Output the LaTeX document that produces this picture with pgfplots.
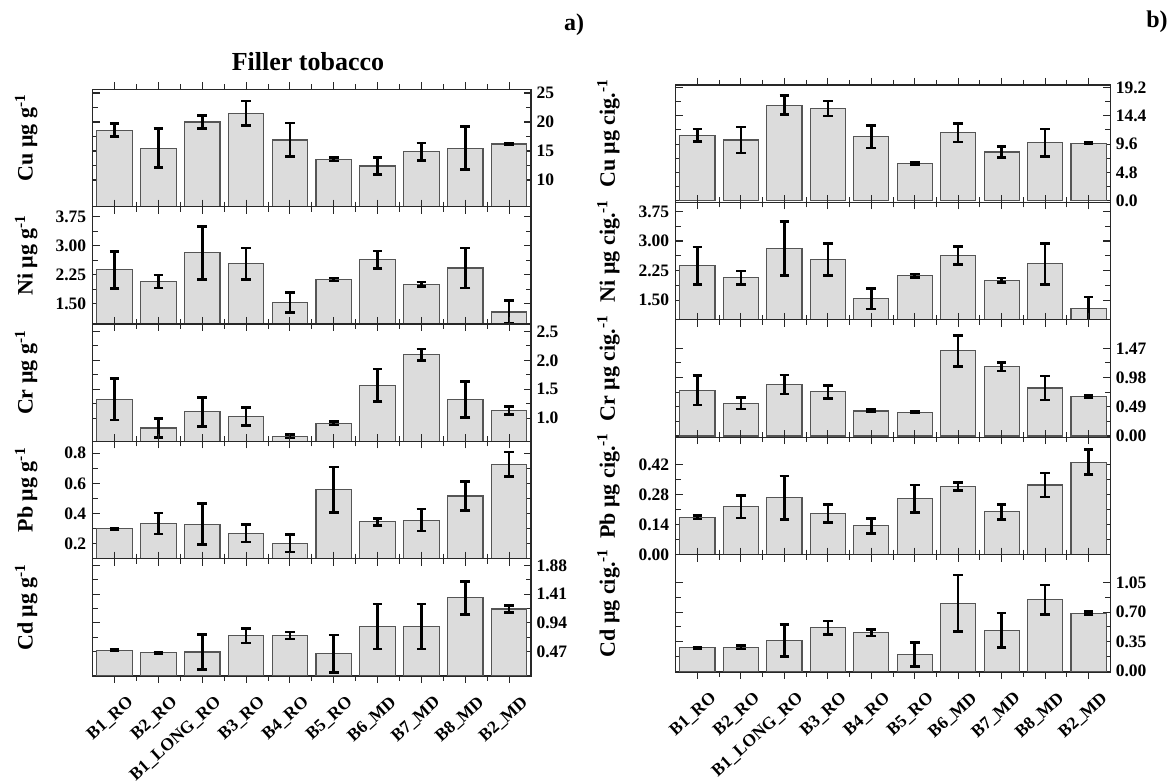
\documentclass[border=0pt]{standalone}
\usepackage{fontspec}
\setmainfont{Liberation Serif}
\usepackage{pgfplots}
\usepackage{pgfplotstable}
\pgfplotsset{compat=1.18}
\definecolor{barfill}{RGB}{220,220,220}
\definecolor{bardraw}{RGB}{85,85,85}
\definecolor{axcol}{RGB}{40,40,40}
\newcommand{\tickfont}{\fontsize{17.5}{19}\selectfont\bfseries}
\newcommand{\ylabfont}{\fontsize{22}{25}\selectfont\bfseries}
\newcommand{\xlabfont}{\fontsize{17.5}{19}\selectfont\bfseries}

% x: category index, y: mean, e: error
\pgfplotstableread{
x y e
1 18.6 1.1
2 15.5 3.4
3 20.0 1.1
4 21.5 2.1
5 16.9 2.9
6 13.6 0.3
7 12.4 1.5
8 14.9 1.5
9 15.5 3.7
10 16.2 0.2
}\LCu
\pgfplotstableread{
x y e
1 2.37 0.48
2 2.07 0.17
3 2.81 0.69
4 2.53 0.41
5 1.53 0.26
6 2.12 0.04
7 2.63 0.23
8 2.00 0.06
9 2.42 0.52
10 1.28 0.30
}\Ni
\pgfplotstableread{
x y e
1 1.33 0.36
2 0.83 0.16
3 1.11 0.25
4 1.03 0.16
5 0.69 0.03
6 0.91 0.03
7 1.57 0.28
8 2.10 0.10
9 1.32 0.31
10 1.13 0.07
}\LCr
\pgfplotstableread{
x y e
1 0.300 0.006
2 0.335 0.070
3 0.330 0.135
4 0.270 0.058
5 0.205 0.058
6 0.558 0.149
7 0.345 0.022
8 0.357 0.073
9 0.516 0.095
10 0.726 0.082
}\LPb
\pgfplotstableread{
x y e
1 0.486 0.012
2 0.450 0.012
3 0.460 0.290
4 0.730 0.120
5 0.730 0.060
6 0.430 0.310
7 0.876 0.370
8 0.876 0.370
9 1.350 0.270
10 1.165 0.055
}\LCd
\pgfplotstableread{
x y e
1 11.09 1.07
2 10.30 2.17
3 16.20 1.63
4 15.64 1.27
5 10.86 1.90
6 6.36 0.20
7 11.54 1.58
8 8.27 0.98
9 9.85 2.30
10 9.74 0.15
}\RCu
\pgfplotstableread{
x y e
1 0.767 0.25
2 0.550 0.10
3 0.862 0.16
4 0.740 0.107
5 0.420 0.02
6 0.400 0.012
7 1.430 0.26
8 1.160 0.07
9 0.805 0.20
10 0.670 0.02
}\RCr
\pgfplotstableread{
x y e
1 0.175 0.008
2 0.225 0.053
3 0.266 0.103
4 0.193 0.043
5 0.135 0.035
6 0.261 0.065
7 0.319 0.020
8 0.200 0.036
9 0.326 0.057
10 0.433 0.059
}\RPb
\pgfplotstableread{
x y e
1 0.276 0.010
2 0.284 0.020
3 0.367 0.190
4 0.517 0.080
5 0.458 0.040
6 0.197 0.140
7 0.808 0.336
8 0.485 0.207
9 0.848 0.178
10 0.690 0.020
}\RCd

\pgfplotsset{
  panel/.style={
    scale only axis, anchor=south west,
    xmin=0.5, xmax=10.5,
    xtick={1,...,10}, xticklabels={},
    minor x tick num=1, minor y tick num=1,
    tick align=inside, tick pos=both,
    major tick length=7pt, minor tick length=5pt,
    axis line style={line width=1.3pt, draw=axcol},
    every tick/.append style={line width=1.1pt, axcol},
    every minor tick/.append style={line width=1pt, axcol},
    tick label style={font=\tickfont},
    ybar, bar width=0.81,
  },
  leftcol/.style={panel, width=438.3pt, height=117.34pt,
    every axis y label/.style={at={(axis description cs:-0.137,0.585)}, rotate=90, anchor=base, font=\ylabfont}},
  rightcol/.style={panel, width=434.6pt, height=117.4pt,
    every axis y label/.style={at={(axis description cs:-0.140,0.585)}, rotate=90, anchor=base, font=\ylabfont}},
  labR/.style={yticklabel pos=right, yticklabel style={xshift=2pt}},
  labL/.style={yticklabel pos=left, yticklabel style={xshift=-3pt}},
  bot/.style={xticklabels={B1\_RO,B2\_RO,B1\_LONG\_RO,B3\_RO,B4\_RO,B5\_RO,B6\_MD,B7\_MD,B8\_MD,B2\_MD},
    xticklabel style={xshift=12pt, yshift=-7pt, rotate=42, anchor=north east, font=\xlabfont}},
  barplot/.style={fill=barfill, draw=bardraw, line width=1.1pt,
    error bars/.cd, y dir=both, y explicit,
    error bar style={line width=2.6pt, black},
    error mark options={rotate=90, mark size=4.8pt, line width=2.6pt, black}},
}

\begin{document}
\begin{tikzpicture}[x=1pt,y=1pt]
\path[use as bounding box] (0,0) rectangle (1171,783);

\node[font=\fontsize{26}{30}\selectfont\bfseries, anchor=base] at (308,712) {Filler tobacco};
\node[font=\fontsize{24}{27}\selectfont\bfseries, anchor=base] at (574,752) {a)};
\node[font=\fontsize{24}{27}\selectfont\bfseries, anchor=base] at (1157,755) {b)};

% ---------------- left column ----------------
\begin{axis}[leftcol, labR, at={(92.7pt,576.36pt)}, ymin=5.4, ymax=25.64,
  ytick={10,15,20,25}, yticklabels={10,15,20,25}, ylabel={Cu μg g\textsuperscript{-1}}]
\addplot[barplot] table[x=x,y=y,y error=e]{\LCu};
\end{axis}
\begin{axis}[leftcol, labL, at={(92.7pt,459.02pt)}, ymin=0.97, ymax=4.01,
  ytick={1.5,2.25,3,3.75}, yticklabels={1.50,2.25,3.00,3.75}, ylabel={Ni μg g\textsuperscript{-1}}]
\addplot[barplot] table[x=x,y=y,y error=e]{\Ni};
\end{axis}
\begin{axis}[leftcol, labR, at={(92.7pt,341.68pt)}, ymin=0.6, ymax=2.63,
  ytick={1,1.5,2,2.5}, yticklabels={1.0,1.5,2.0,2.5}, ylabel={Cr μg g\textsuperscript{-1}}]
\addplot[barplot] table[x=x,y=y,y error=e]{\LCr};
\end{axis}
\begin{axis}[leftcol, labL, at={(92.7pt,224.34pt)}, ymin=0.102, ymax=0.878,
  ytick={0.2,0.4,0.6,0.8}, yticklabels={0.2,0.4,0.6,0.8}, ylabel={Pb μg g\textsuperscript{-1}}]
\addplot[barplot] table[x=x,y=y,y error=e]{\LPb};
\end{axis}
\begin{axis}[leftcol, labR, bot, at={(92.7pt,107pt)}, ymin=0.065, ymax=1.993,
  ytick={0.47,0.94,1.41,1.88}, yticklabels={0.47,0.94,1.41,1.88}, ylabel={Cd μg g\textsuperscript{-1}}]
\addplot[barplot] table[x=x,y=y,y error=e]{\LCd};
\end{axis}

% ---------------- right column ----------------
\begin{axis}[rightcol, labR, at={(675.7pt,580.6pt)}, ymin=-0.25, ymax=19.6,
  ytick={0,4.8,9.6,14.4,19.2}, yticklabels={0.0,4.8,9.6,14.4,19.2}, ylabel={Cu μg cig.\textsuperscript{-1}}]
\addplot[barplot] table[x=x,y=y,y error=e]{\RCu};
\end{axis}
\begin{axis}[rightcol, labL, at={(675.7pt,463.2pt)}, ymin=1.0, ymax=3.98,
  ytick={1.5,2.25,3,3.75}, yticklabels={1.50,2.25,3.00,3.75}, ylabel={Ni μg cig.\textsuperscript{-1}}]
\addplot[barplot] table[x=x,y=y,y error=e]{\Ni};
\end{axis}
\begin{axis}[rightcol, labR, at={(675.7pt,345.8pt)}, ymin=-0.02, ymax=1.95,
  ytick={0,0.49,0.98,1.47}, yticklabels={0.00,0.49,0.98,1.47}, ylabel={Cr μg cig.\textsuperscript{-1}}]
\addplot[barplot] table[x=x,y=y,y error=e]{\RCr};
\end{axis}
\begin{axis}[rightcol, labL, at={(675.7pt,228.4pt)}, ymin=0, ymax=0.55,
  ytick={0,0.14,0.28,0.42}, yticklabels={0.00,0.14,0.28,0.42}, ylabel={Pb μg cig.\textsuperscript{-1}}]
\addplot[barplot] table[x=x,y=y,y error=e]{\RPb};
\end{axis}
\begin{axis}[rightcol, labR, bot, at={(675.7pt,111pt)}, ymin=-0.01, ymax=1.385,
  ytick={0,0.35,0.7,1.05}, yticklabels={0.00,0.35,0.70,1.05}, ylabel={Cd μg cig.\textsuperscript{-1}}]
\addplot[barplot] table[x=x,y=y,y error=e]{\RCd};
\end{axis}
\end{tikzpicture}
\end{document}
